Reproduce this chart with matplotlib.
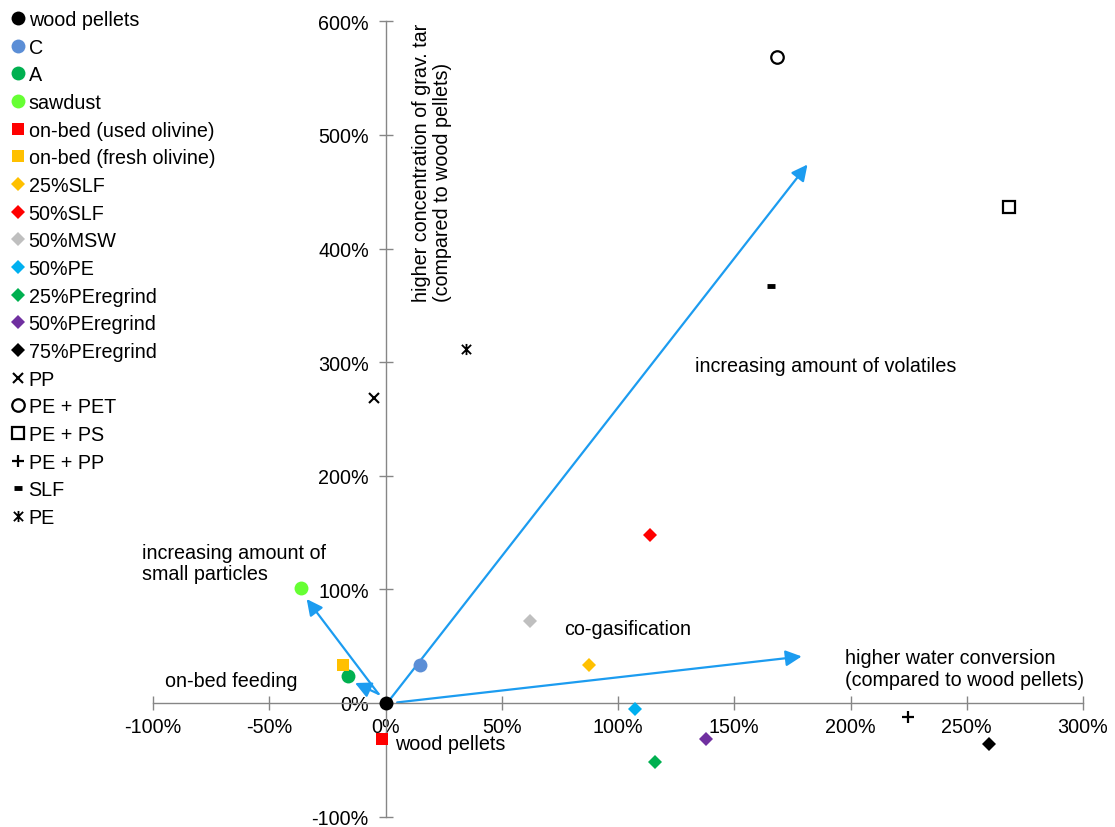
import matplotlib
matplotlib.use("Agg")
import matplotlib.pyplot as plt
from matplotlib.patches import FancyArrowPatch
from matplotlib.path import Path
from matplotlib.ticker import FuncFormatter

plt.rcParams["font.family"] = ["Liberation Sans", "DejaVu Sans"]

# Relative change vs. wood pellets (percent): water conversion (x), grav. tar (y)
series_names = ["wood pellets", "C", "A", "sawdust", "on-bed (used olivine)",
                "on-bed (fresh olivine)", "25%SLF", "50%SLF", "50%MSW", "50%PE",
                "25%PEregrind", "50%PEregrind", "75%PEregrind", "PP", "PE + PET",
                "PE + PS", "PE + PP", "SLF", "PE"]
water_conversion = [0, 15, -16.3, -36.5, -1.5, -18.1, 87.6, 113.7, 62.1, 107.4,
                    116, 138, 259.6, -4.9, 168.4, 268.2, 224.8, 166, 34.6]
grav_tar = [0, 33.5, 24, 101, -31.7, 33.5, 33.5, 148, 72, -5.3,
            -52, -31.7, -36, 268.5, 569, 437, -12.6, 367, 311.6]

# Trend arrows (start x, start y, end x, end y) in percent
trend_arrows = [
    (1.5, 2.0, 181.5, 474.0),
    (5.0, 0.5, 179.0, 41.0),
    (-3.0, 8.0, -33.9, 91.5),
    (-3.0, 8.0, -13.1, 17.6),
]

x_ticks = [-100, -50, 0, 50, 100, 150, 200, 250, 300]
y_ticks = [-100, 0, 100, 200, 300, 400, 500, 600]

# asterisk marker: an "x" crossed by a vertical stroke
star_marker = Path([(-1, -1), (1, 1), (-1, 1), (1, -1), (0, -1.2), (0, 1.2)],
                   [Path.MOVETO, Path.LINETO, Path.MOVETO, Path.LINETO,
                    Path.MOVETO, Path.LINETO])

styles = [
    dict(marker="o", color="black", ms=10),
    dict(marker="o", color="#5B8ED6", ms=10),
    dict(marker="o", color="#00B050", ms=10),
    dict(marker="o", color="#66FF33", ms=10),
    dict(marker="s", color="#FF0000", ms=9),
    dict(marker="s", color="#FFC000", ms=9),
    dict(marker="D", color="#FFC000", ms=7.5),
    dict(marker="D", color="#FF0000", ms=7.5),
    dict(marker="D", color="#BFBFBF", ms=7.5),
    dict(marker="D", color="#00B0F0", ms=7.5),
    dict(marker="D", color="#00B050", ms=7.5),
    dict(marker="D", color="#7030A0", ms=7.5),
    dict(marker="D", color="black", ms=7.5),
    dict(marker="x", color="black", ms=7, mew=1.5),
    dict(marker="o", color="black", ms=9, mfc="none", mew=1.6),
    dict(marker="s", color="black", ms=9, mfc="none", mew=1.6),
    dict(marker="+", color="black", ms=9, mew=1.6),
    dict(marker="_", color="black", ms=6, mew=3.5),
    dict(marker=star_marker, color="black", ms=8, mew=1.3),
]

W, H = 1115, 828
fig = plt.figure(figsize=(W / 100, H / 100), dpi=100)
ax = fig.add_axes([153 / W, (H - 817.6) / H, 930 / W, (817.6 - 22.4) / H])
ax.set_xlim(-100, 300)
ax.set_ylim(-100, 600)

arrow_color = "#1C9CF0"
for x0, y0, x1, y1 in trend_arrows:
    ax.add_patch(FancyArrowPatch((x0, y0), (x1, y1),
                                 arrowstyle="-|>,head_length=0.6,head_width=0.3",
                                 mutation_scale=16, color=arrow_color,
                                 lw=1.6, shrinkA=0, shrinkB=0, zorder=2))

handles = []
for name, xv, yv, st in zip(series_names, water_conversion, grav_tar, styles):
    st = dict(st)
    color = st.pop("color")
    mfc = st.pop("mfc", color)
    ms = st.pop("ms")
    mew = st.pop("mew", 0)
    h, = ax.plot([xv], [yv], linestyle="none", marker=st.pop("marker"),
                 color=color, mfc=mfc, mec=color, ms=ms, mew=mew,
                 label=name, zorder=3, clip_on=False)
    handles.append(h)

# Axes crossing at the origin
axis_grey = "#868686"
for side in ("top", "right"):
    ax.spines[side].set_visible(False)
ax.spines["left"].set_position(("data", 0))
ax.spines["bottom"].set_position(("data", 0))
for side in ("left", "bottom"):
    ax.spines[side].set_color(axis_grey)
    ax.spines[side].set_linewidth(1.0)

fs = 14.2
ax.set_xticks(x_ticks)
ax.set_yticks(y_ticks)
pct = FuncFormatter(lambda v, p: f"{v:.0f}%")
ax.xaxis.set_major_formatter(pct)
ax.yaxis.set_major_formatter(pct)
ax.tick_params(axis="both", direction="inout", length=10, width=1.0,
               color=axis_grey, labelsize=fs, labelcolor="black")
ax.tick_params(axis="x", pad=5)
ax.tick_params(axis="y", pad=7)

ls = 1.15
ax.text(20, 354, "higher concentration of grav. tar\n(compared to wood pellets)",
        rotation=90, ha="center", va="bottom", multialignment="left",
        fontsize=fs, linespacing=ls)
ax.text(133, 296.7, "increasing amount of volatiles", ha="left", va="center",
        fontsize=fs)
ax.text(-104.7, 123, "increasing amount of\nsmall particles", ha="left",
        va="center", fontsize=fs, linespacing=ls, clip_on=False)
ax.text(-94.8, 20, "on-bed feeding", ha="left", va="center", fontsize=fs)
ax.text(77, 66, "co-gasification", ha="left", va="center", fontsize=fs)
ax.text(197.5, 30.4, "higher water conversion\n(compared to wood pellets)",
        ha="left", va="center", fontsize=fs, linespacing=ls)
ax.text(4.1, -36, "wood pellets", ha="left", va="center", fontsize=fs)

fig.legend(handles=handles, loc="upper left", bbox_to_anchor=(0.0, 1.0),
           frameon=False, fontsize=fs, handlelength=0.7, handletextpad=0.2,
           labelspacing=0.44, borderaxespad=0.3, borderpad=0.25)

fig.savefig("out.png", dpi=100, facecolor="white")
